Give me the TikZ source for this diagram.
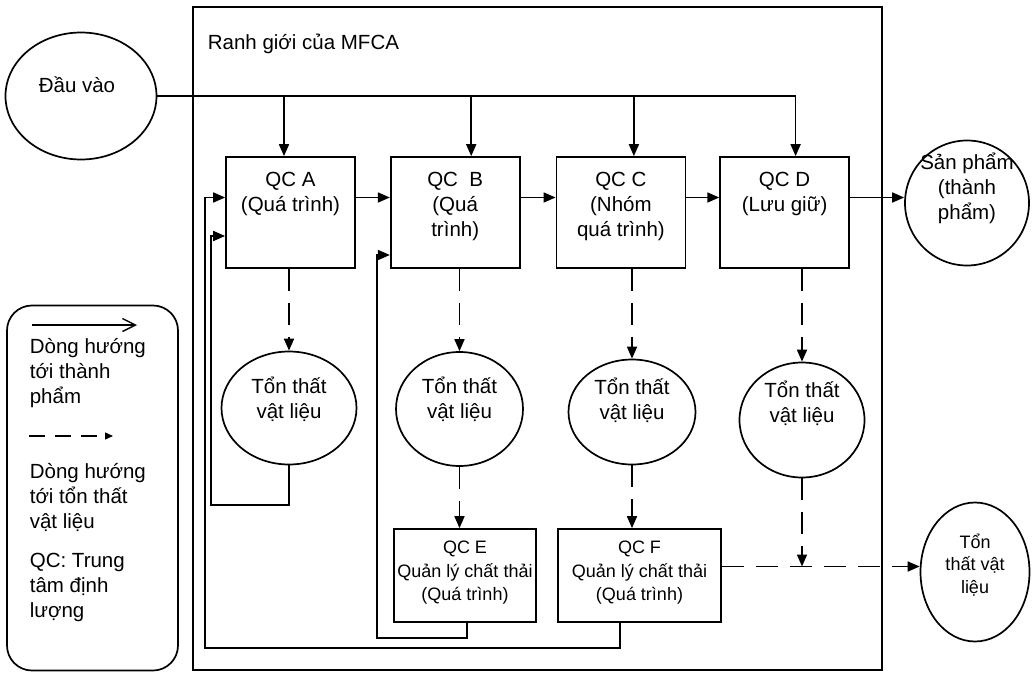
\documentclass[tikz,border=0pt]{standalone}
\usepackage{fontspec}
\setmainfont{Liberation Sans}
\usetikzlibrary{positioning,shapes.geometric,arrows.meta}

\begin{document}
\begin{tikzpicture}[x=1pt, y=-1pt, line width=1.7pt, font=\fontsize{20.5}{25}\selectfont,
		every node/.style={align=center, inner sep=3pt},
		q/.style={draw, minimum width=129pt, minimum height=111pt},
		o/.style={draw, ellipse, inner sep=0pt},
		fw/.style={-{Triangle[length=12pt, width=10pt]}},
		ls/.style={fw, dash pattern=on 22pt off 12pt},
		sm/.style={font=\fontsize{18}{23.5}\selectfont}]
		\useasboundingbox (0,0) rectangle (1035,674);

		% boundary of the MFCA
		\draw (193,7) rectangle (882,670);
		\node[anchor=west] (mfca) at (204,44) {Ranh giới của MFCA};

		\node[o, minimum width=151pt, minimum height=127pt] (in) at (81,96) {};
		\node (in_label) at (77,85) {Đầu vào};

		% quantity centres
		\node[q] (qa) at (290.5,212.5) {};
		\node[below=12pt of qa.north] (qa_label) {QC A\\(Quá trình)};
		\node[q, right=34pt of qa] (qb) {};
		\node[below=12pt of qb.north] (qb_label) {QC~ B\\(Quá\\trình)};
		\node[q, right=35pt of qb] (qc) {};
		\node[below=12pt of qc.north] (qc_label) {QC C\\(Nhóm\\quá trình)};
		\node[q, right=33pt of qc] (qd) {};
		\node[below=12pt of qd.north] (qd_label) {QC D\\(Lưu giữ)};

		\node[o, minimum width=124pt, minimum height=125pt] (sp) at (967,203) {};
		\node (sp_label) at (967,188) {Sản phẩm\\(thành\\phẩm)};

		% material losses
		\node[o, minimum width=135pt, minimum height=113pt] (la) at (289,408) {};
		\node (la_label) at (289,399) {Tổn thất\\vật liệu};
		\node[o, minimum width=127pt, minimum height=114pt] (lb) at (459.5,409) {};
		\node (lb_label) at (459.5,399) {Tổn thất\\vật liệu};
		\node[o, minimum width=127pt, minimum height=105pt] (lc) at (632,412) {};
		\node (lc_label) at (632,400) {Tổn thất\\vật liệu};
		\node[o, minimum width=125pt, minimum height=115pt] (ld) at (802,420) {};
		\node (ld_label) at (802,403) {Tổn thất\\vật liệu};

		% waste management
		\node[draw, minimum width=142pt, minimum height=93pt] (qe) at (465,575.5) {};
		\node[sm, below=9pt of qe.north] (qe_label) {QC E\\Quản lý chất thải\\(Quá trình)};
		\node[draw, minimum width=163pt, minimum height=93pt] (qf) at (639.5,575.5) {};
		\node[sm, below=9pt of qf.north] (qf_label) {QC F\\Quản lý chất thải\\(Quá trình)};

		\node[o, minimum width=109pt, minimum height=139pt] (tl) at (975,572) {};
		\node[sm, font=\fontsize{18}{22.5}\selectfont] (tl_label) at (975,565) {Tổn\\thất vật\\liệu};

		% legend
		\node[draw, rounded corners=25pt, minimum width=171pt, minimum height=365pt] (leg) at (92.5,488) {};
		\coordinate (lg1) at (32,325);
		\coordinate (lg2) at (137,325);
		\draw[-{Straight Barb[length=13pt, width=13pt]}, line width=1.4pt] (lg1) -- (lg2);
		\node[anchor=west, align=left] (leg_fw) at (26,373) {Dòng hướng\\tới thành\\phẩm};
		\coordinate (lg3) at (29,436);
		\coordinate (lg4) at (113,436);
		\draw[-{Triangle[length=8pt, width=7pt]}, dash pattern=on 16pt off 10pt, line width=1.4pt] (lg3) -- (lg4);
		\node[anchor=west, align=left] (leg_ls) at (26,498) {Dòng hướng\\tới tổn thất\\vật liệu};
		\node[anchor=west, align=left] (leg_qc) at (26,587) {QC: Trung\\tâm định\\lượng};

		% input
		\coordinate (ja) at ([xshift=-6.5pt]qa.north);
		\coordinate (jb) at ([xshift=16pt]qb.north);
		\coordinate (jc) at ([xshift=13pt]qc.north);
		\draw[fw] (in.east) -| ([xshift=11pt]qd.north);
		\path[fw] (ja |- in.east) edge (ja);
		\path[fw] (jb |- in.east) edge (jb);
		\path[fw] (jc |- in.east) edge (jc);

		% flow to products
		\coordinate (dout) at ([yshift=15pt]qd.east);
		\path[fw] ([yshift=15pt]qa.east) edge ([yshift=15pt]qb.west);
		\path[fw] ([yshift=15pt]qb.east) edge ([yshift=15pt]qc.west);
		\path[fw] ([yshift=15pt]qc.east) edge ([yshift=15pt]qd.west);
		\path[fw] (dout) edge (dout -| sp.west);

		% flow to losses
		\path[ls] (qa.south -| la) edge (la);
		\path[ls] (qb.south -| lb) edge (lb);
		\path[ls] (qc.south -| lc) edge (lc);
		\path[ls] (qd.south -| ld) edge (ld);
		\path[ls] (lb.south) edge (lb.south |- qe.north);
		\path[ls] (lc.south) edge (lc.south |- qf.north);
		\coordinate (fout) at ([yshift=9pt]qf.east);
		\path[ls] (fout) edge (fout -| tl.west);
		\path[ls] (ld.south) edge (ld.south |- fout);

		% recycling
		\coordinate (fa) at (211,505);
		\coordinate (fe) at (377,638);
		\coordinate (ff) at (205,648);
		\draw[fw] (la.south) |- (fa) |- ([yshift=-23.5pt]qa.west);
		\draw[fw] ([xshift=2pt]qe.south) |- (fe) |- ([yshift=-42.5pt]qb.west);
		\draw[fw] ([xshift=-19.5pt]qf.south) |- (ff) |- ([yshift=15pt]qa.west);
	\end{tikzpicture}
\end{document}
